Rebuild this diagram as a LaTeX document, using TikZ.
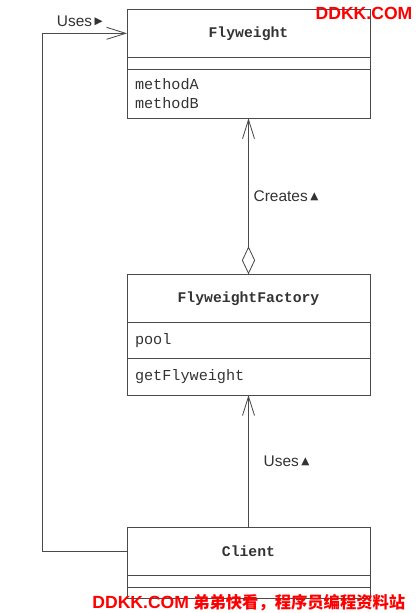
\documentclass[tikz,border=0pt]{standalone}
\usepackage{fontspec}
\setmainfont{Liberation Sans}
\setmonofont{Liberation Mono}
\newfontfamily\symfont{DejaVu Sans}
\newfontfamily\cjk{Noto Sans CJK SC}
\usepackage{xcolor}
\usepackage{tikz}
\usetikzlibrary{arrows.meta,positioning}
\definecolor{umlink}{HTML}{4A4A4A}
\definecolor{umltext}{HTML}{333333}
\definecolor{wmred}{HTML}{FF0000}
\newcommand{\uptri}{\raisebox{1.6pt}{\symfont\fontsize{7.5}{8}\selectfont ▲}}
\newcommand{\righttri}{\raisebox{1.2pt}{\symfont\fontsize{7.5}{8}\selectfont ▶}}

\begin{document}
\begin{tikzpicture}[
    line width=0.6pt,
    classname/.style={draw=umlink,minimum width=6.075cm,inner sep=0pt,outer sep=0pt,
      text=umltext,font=\ttfamily\bfseries\fontsize{10.5}{13}\selectfont},
    compart/.style={draw=umlink,text width=5.675cm,inner xsep=0.2cm,inner ysep=0pt,outer sep=0pt,
      align=left,text=umltext,font=\ttfamily\fontsize{10.8}{13.5}\selectfont},
    lbl/.style={text=umltext,font=\fontsize{11}{13}\selectfont},
    uses/.style={draw=umlink,-{Straight Barb[length=0.475cm,width=0.3cm]}},
    creates/.style={draw=umlink,{Diamond[open,length=0.7cm,width=0.33cm]}-{Straight Barb[length=0.475cm,width=0.3cm]}},
    wmark/.style={text=wmred,inner sep=0pt,font=\bfseries\fontsize{12.5}{13}\selectfont}
  ]
    \useasboundingbox (0,0) rectangle (10.4,-15.325);
    % Flyweight
    \node[classname,minimum height=1.2cm] (fw) at (6.2125,-0.833) {Flyweight};
    \node[compart,minimum height=0.3cm,below=0pt of fw] (fwfields) {};
    \node[compart,minimum height=1.225cm,below=0pt of fwfields] (fwmethods) {methodA\\methodB};
    % FlyweightFactory
    \node[classname,minimum height=1.21cm] (factory) at (6.2125,-7.4625) {FlyweightFactory};
    \node[compart,minimum height=0.89cm,below=0pt of factory] (pool) {pool};
    \node[compart,minimum height=0.92cm,below=0pt of pool] (getfw) {getFlyweight};
    % Client
    \node[classname,minimum height=1.21cm] (client) at (6.2125,-13.7875) {Client};
    \node[compart,minimum height=0.29cm,below=0pt of client] (clfields) {};
    \node[compart,minimum height=0.29cm,below=0pt of clfields] (clmethods) {};
    % relations
    \coordinate (bend) at (1.07,-7);
    \draw[creates] (factory.north) -- (fwmethods.south) node[lbl,midway,right] {Creates\,\uptri};
    \draw[uses] (client.north) -- (getfw.south) node[lbl,midway,right=0.25cm] {Uses\,\uptri};
    \draw[uses] (client.west) -| (bend) |- (fw.west) node[lbl,pos=0.72,above=0.05cm] {Uses\,\righttri};
    % watermarks
    \node[wmark] (wmtop) at (9.1,-0.325) {DDKK.COM};
    \node[wmark,anchor=west] (wmbot) at (2.3,-15.075) {DDKK.COM\hspace{3pt}{\cjk\fontsize{11.6}{13}\selectfont 弟弟快看，程序员编程资料站}};
  \end{tikzpicture}
\end{document}
